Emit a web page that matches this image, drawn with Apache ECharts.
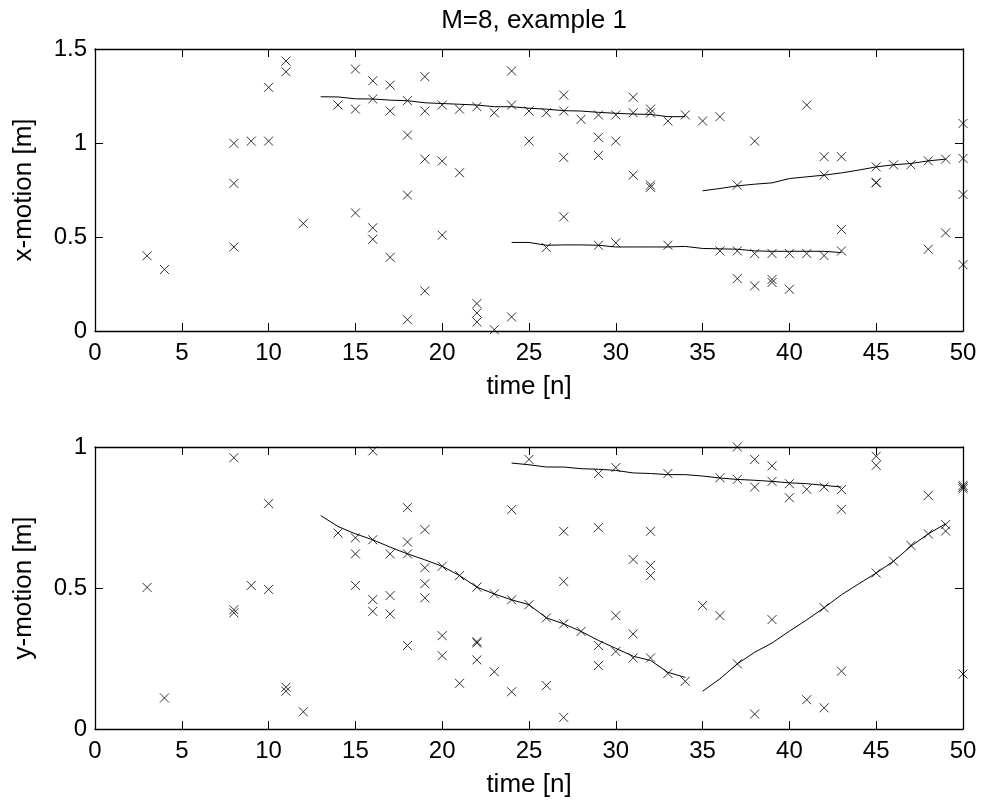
<!DOCTYPE html>
<html>
<head>
<meta charset="utf-8">
<script src="https://cdn.jsdelivr.net/npm/echarts@6/dist/echarts.min.js"></script>
<style>
html,body{margin:0;padding:0;background:#fff;}
#chart{width:982px;height:803px;}
</style>
</head>
<body>
<div id="chart"></div>
<script>
// ---------- data ----------
var titleText = 'M=8, example 1';
var xTicks = [0, 5, 10, 15, 20, 25, 30, 35, 40, 45, 50];

// observations: [time, value]
var xObs = [
  [3,0.40],[4,0.327],
  [8,0.998],[8,0.785],[8,0.447],[9,1.010],[10,1.010],[10,1.296],[11,1.436],[11,1.379],[12,0.572],
  [14,1.202],[15,1.393],[15,1.180],[15,0.628],
  [16,1.331],[16,1.234],[16,0.549],[16,0.488],
  [17,1.308],[17,1.170],[17,0.392],
  [18,1.225],[18,1.042],[18,0.723],[18,0.060],
  [19,1.353],[19,1.170],[19,0.914],[19,0.213],
  [20,1.202],[20,0.904],[20,0.510],
  [21,1.180],[21,0.842],
  [22,1.193],[22,0.146],[22,0.096],[22,0.048],
  [23,1.161],[23,0.007],
  [24,1.383],[24,1.202],[24,0.075],
  [25,1.170],[25,1.010],
  [26,1.161],[26,0.444],
  [27,1.255],[27,1.170],[27,0.923],[27,0.607],
  [28,1.126],
  [29,1.149],[29,1.030],[29,0.934],[29,0.456],
  [30,1.149],[30,1.010],[30,0.469],
  [31,1.243],[31,1.161],[31,0.829],
  [32,1.180],[32,1.160],[32,0.776],[32,0.764],
  [33,1.117],[33,0.456],
  [34,1.149],[35,1.117],
  [36,1.140],[36,0.426],
  [37,0.776],[37,0.426],[37,0.279],
  [38,1.010],[38,0.412],[38,0.240],
  [39,0.412],[39,0.274],[39,0.258],
  [40,0.412],[40,0.222],
  [41,1.202],[41,0.412],
  [42,0.927],[42,0.829],[42,0.401],
  [43,0.927],[43,0.540],[43,0.426],
  [45,0.873],[45,0.788],[45,0.790],
  [46,0.884],[47,0.884],
  [48,0.905],[48,0.435],
  [49,0.914],[49,0.522],
  [50,1.104],[50,0.918],[50,0.726],[50,0.353]
];

var yObs = [
  [3,0.502],[4,0.110],
  [8,0.962],[8,0.423],[8,0.412],[9,0.509],[10,0.799],[10,0.495],[11,0.148],[11,0.134],[12,0.061],
  [14,0.695],[15,0.678],[15,0.621],[15,0.509],
  [16,0.986],[16,0.671],[16,0.459],[16,0.417],
  [17,0.621],[17,0.473],[17,0.408],
  [18,0.785],[18,0.663],[18,0.621],[18,0.296],
  [19,0.707],[19,0.572],[19,0.515],[19,0.465],
  [20,0.577],[20,0.331],[20,0.260],
  [21,0.544],[21,0.162],
  [22,0.503],[22,0.310],[22,0.305],[22,0.245],
  [23,0.479],[23,0.203],
  [24,0.778],[24,0.458],[24,0.132],
  [25,0.956],[25,0.441],
  [26,0.394],[26,0.154],
  [27,0.701],[27,0.523],[27,0.373],[27,0.041],
  [28,0.346],
  [29,0.906],[29,0.714],[29,0.296],[29,0.225],
  [30,0.927],[30,0.402],[30,0.275],
  [31,0.601],[31,0.337],[31,0.252],
  [32,0.701],[32,0.580],[32,0.544],[32,0.252],
  [33,0.906],[33,0.197],
  [34,0.169],[35,0.438],
  [36,0.891],[36,0.402],
  [37,1.000],[37,0.885],[37,0.231],
  [38,0.956],[38,0.858],[38,0.053],
  [39,0.933],[39,0.878],[39,0.388],
  [40,0.870],[40,0.820],
  [41,0.850],[41,0.104],
  [42,0.858],[42,0.430],[42,0.075],
  [43,0.849],[43,0.779],[43,0.205],
  [45,0.967],[45,0.935],[45,0.553],
  [46,0.595],[47,0.651],
  [48,0.828],[48,0.692],
  [49,0.725],[49,0.702],
  [50,0.864],[50,0.858],[50,0.852],[50,0.195]
];

// estimated tracks: start time + values per step
var xTrack1Start = 13;
var xTrack1 = [1.246,1.245,1.235,1.234,1.228,1.225,1.214,1.210,1.206,1.202,1.193,1.193,1.185,1.180,1.172,1.170,1.163,1.158,1.154,1.152,1.140,1.140];
var xTrack2Start = 24;
var xTrack2 = [0.471,0.471,0.456,0.458,0.458,0.456,0.447,0.447,0.447,0.447,0.450,0.439,0.437,0.435,0.426,0.424,0.424,0.424,0.424,0.417];
var xTrack3Start = 35;
var xTrack3 = [0.746,0.758,0.772,0.781,0.788,0.811,0.820,0.829,0.841,0.856,0.873,0.884,0.891,0.905,0.914];

var yTrack1Start = 13;
var yTrack1 = [0.757,0.718,0.692,0.671,0.645,0.621,0.600,0.577,0.544,0.503,0.479,0.458,0.441,0.394,0.373,0.346,0.314,0.286,0.258,0.243,0.201,0.183];
var yTrack2Start = 24;
var yTrack2 = [0.943,0.937,0.929,0.929,0.923,0.921,0.917,0.908,0.906,0.902,0.902,0.897,0.890,0.885,0.882,0.878,0.873,0.870,0.864,0.858];
var yTrack3Start = 35;
var yTrack3 = [0.134,0.178,0.231,0.272,0.305,0.347,0.387,0.430,0.476,0.515,0.553,0.595,0.648,0.692,0.728];

// ---------- chart ----------
var FONT = '"Liberation Sans", Arial, Helvetica, sans-serif';
var FS = 24;     // tick labels
var FS_NAME = 26; // axis names and title

function track(start, vals) {
  return vals.map(function (v, i) { return [start + i, v]; });
}

var cross = 'path://M0,0L10,10M10,0L0,10';

function scatter(data, idx) {
  return {
    type: 'scatter', xAxisIndex: idx, yAxisIndex: idx, data: data,
    symbol: cross, symbolSize: 9, silent: true,
    itemStyle: { color: 'rgba(0,0,0,0)', borderColor: '#000', borderWidth: 1 }
  };
}
function line(data, idx) {
  return {
    type: 'line', xAxisIndex: idx, yAxisIndex: idx, data: data,
    showSymbol: false, symbol: 'none', silent: true, smooth: false,
    lineStyle: { color: '#000', width: 1 }
  };
}

var axisLine = { show: true, onZero: false, lineStyle: { color: '#000', width: 1.3 } };
var axisTick = { show: true, inside: true, length: 8, lineStyle: { color: '#000', width: 1 } };

function xAxisMain(grid) {
  return {
    type: 'value', gridIndex: grid, min: xTicks[0], max: xTicks[xTicks.length - 1], interval: 5,
    position: 'bottom', axisLine: axisLine, axisTick: axisTick, splitLine: { show: false },
    axisLabel: { color: '#000', fontSize: FS, fontFamily: FONT, margin: 10 },
    name: 'time [n]', nameLocation: 'middle', nameGap: 43,
    nameTextStyle: { color: '#000', fontSize: FS_NAME, fontFamily: FONT }
  };
}
function xAxisMirror(grid) {
  return {
    type: 'value', gridIndex: grid, min: 0, max: 50, interval: 5, position: 'top',
    axisLine: axisLine, axisTick: axisTick, splitLine: { show: false }, axisLabel: { show: false }
  };
}
function yAxisMain(grid, max, name) {
  return {
    type: 'value', gridIndex: grid, min: 0, max: max, interval: 0.5, position: 'left',
    axisLine: axisLine, axisTick: axisTick, splitLine: { show: false },
    axisLabel: { color: '#000', fontSize: FS, fontFamily: FONT, margin: 8 },
    name: name, nameLocation: 'middle', nameGap: 58, nameRotate: 90,
    nameTextStyle: { color: '#000', fontSize: FS_NAME, fontFamily: FONT }
  };
}
function yAxisMirror(grid, max) {
  return {
    type: 'value', gridIndex: grid, min: 0, max: max, interval: 0.5, position: 'right',
    axisLine: axisLine, axisTick: axisTick, splitLine: { show: false }, axisLabel: { show: false }
  };
}

var option = {
  backgroundColor: '#fff',
  animation: false,
  title: {
    text: titleText, left: 529, top: 3, textAlign: 'center',
    textStyle: { color: '#000', fontSize: FS_NAME, fontWeight: 'normal', fontFamily: FONT }
  },
  grid: [
    { left: 95, right: 19, top: 49, height: 282, containLabel: false },
    { left: 95, right: 19, top: 447, height: 282, containLabel: false }
  ],
  xAxis: [xAxisMain(0), xAxisMain(1), xAxisMirror(0), xAxisMirror(1)],
  yAxis: [yAxisMain(0, 1.5, 'x-motion [m]'), yAxisMain(1, 1, 'y-motion [m]'), yAxisMirror(0, 1.5), yAxisMirror(1, 1)],
  series: [
    scatter(xObs, 0),
    line(track(xTrack1Start, xTrack1), 0),
    line(track(xTrack2Start, xTrack2), 0),
    line(track(xTrack3Start, xTrack3), 0),
    scatter(yObs, 1),
    line(track(yTrack1Start, yTrack1), 1),
    line(track(yTrack2Start, yTrack2), 1),
    line(track(yTrack3Start, yTrack3), 1)
  ]
};

var chart = echarts.init(document.getElementById('chart'), null, { renderer: 'canvas' });
chart.setOption(option);
</script>
</body>
</html>
